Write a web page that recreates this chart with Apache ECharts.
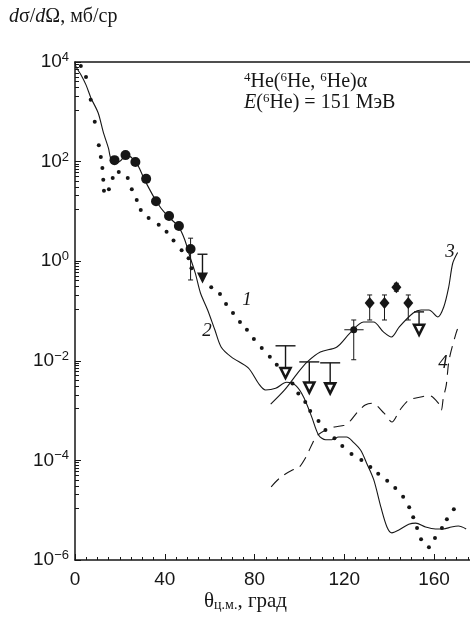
<!DOCTYPE html>
<html><head><meta charset="utf-8">
<script src="https://cdn.jsdelivr.net/npm/echarts@6/dist/echarts.min.js"></script>
<style>html,body{margin:0;padding:0;background:#fff}#c{width:470px;height:624px}</style>
</head><body><div id="c"></div>
<script>
// ---- Data ----
const xTicks = [0, 40, 80, 120, 160];
const yTickExps = [-6, -4, -2, 0, 2, 4];

// Curve 1 (dotted)
const c1Theta = [2.6,4.9,7.0,8.8,10.6,11.5,12.2,12.6,12.9,15.1,16.8,19.5,23.5,25.3,27.5,29.3,32.8,37.3,40.8,43.9,47.5,50.6,51.9,60.7,64.6,67.3,70.4,73.5,76.6,79.7,83.2,86.8,89.9,93.4,96.9,99.5,102.6,104.8,108.5,111.6,115.6,119.1,123.2,127.6,131.6,135.1,139.1,142.7,146.2,148.9,150.7,152.4,154.2,157.7,160.4,163.5,165.7,168.8];
const c1Val = [8300,5000,1740,630,214,123,74,43,26,28,47,62,47,28,17,10.7,7.4,5.4,3.9,2.6,1.66,1.15,0.72,0.30,0.22,0.138,0.091,0.060,0.042,0.0275,0.018,0.012,8.3e-3,5.5e-3,3.5e-3,2.2e-3,1.48e-3,9.8e-4,6.2e-4,4.1e-4,2.8e-4,1.95e-4,1.35e-4,1.02e-4,7.4e-5,5.4e-5,3.9e-5,2.8e-5,1.86e-5,1.15e-5,7.2e-6,4.4e-6,2.6e-6,1.8e-6,2.75e-6,4.4e-6,6.6e-6,1.05e-5];

// Curve 2 (solid)
const c2Theta = [0,0.5,2.7,4.9,7.1,10.3,12.6,14.9,16.3,19.4,22.9,27.4,31.0,36.4,40.8,46.2,48.9,51.3,53.6,55.9,59.1,62.3,65.1,69.6,77.2,81.8,84.9,89.4,94.3,98.3,101.9,105.5,108.6,111.7,114.4,117.5,121.0,124.1,127.3,129.9,133.1,136.3,139.0,141.2,144.3,148.7,151.8,156.2,160.6,164.1,167.7,170.8,174.3];
const c2Val = [1e4,7900,5500,3470,1900,955,390,186,107,98,135,93,43,15.5,8.5,4.9,2.7,1.2,0.575,0.23,0.105,0.042,0.019,0.012,7.2e-3,3.5e-3,2.6e-3,2.8e-3,3.7e-3,3.2e-3,1.86e-3,7.4e-4,3.2e-4,2.6e-4,2.6e-4,2.95e-4,2.95e-4,2.3e-4,1.6e-4,8.9e-5,4.1e-5,1.15e-5,4.6e-6,3.5e-6,4.0e-6,5.2e-6,5.5e-6,4.6e-6,4.2e-6,4.2e-6,4.6e-6,4.8e-6,4.2e-6];

// Curve 3 (solid)
const c3Theta = [87.2,93.4,99.1,103.5,109.3,116.7,122.5,128.6,133.0,137.4,141.0,144.5,150.7,154.2,157.7,161.7,164.3,166.5,168.3,170.5];
const c3Val = [1.35e-3,2.6e-3,5.6e-3,9.5e-3,0.015,0.019,0.036,0.060,0.060,0.038,0.030,0.048,0.091,0.105,0.105,0.076,0.12,0.30,0.91,1.5];

// Curve 4 (dashed)
const c4Theta = [87.4,91.4,97.1,99.3,102.9,106.0,108.1,111.7,115.6,120.0,122.2,125.8,129.3,132.4,137.7,141.2,144.7,148.7,153.5,157.9,161.9,163.2,164.1,165.4,166.7,169.8,171.1];
const c4Val = [2.95e-5,4.5e-5,6.5e-5,6.8e-5,1.17e-4,2.3e-4,3.2e-4,4.1e-4,4.7e-4,5.1e-4,5.9e-4,9.3e-4,1.29e-3,1.41e-3,8.9e-4,5.9e-4,1.02e-3,1.62e-3,1.86e-3,2.0e-3,1.41e-3,1.02e-3,1.78e-3,3.2e-3,0.0105,0.036,0.052];

// Experimental points
const circTheta = [17.6,22.5,26.9,31.7,36.1,41.9,46.3,51.5];
const circVal = [107,135,98,45,16,8.1,5.1,1.76];
const triFillTheta = [56.8];
const triFillVal = [0.46];
const triOpenTheta = [93.8,104.4,113.7,153.3];
const triOpenVal = [5.7e-3,2.9e-3,2.8e-3,0.042];
const dotTheta = [124.2];
const dotVal = [0.042];
const diaTheta = [131.3,137.9,143.2,148.5];
const diaVal = [0.145,0.145,0.30,0.145];

// Error bars / upper limits
const errTheta = [51.5,56.8,93.8,104.4,113.7,124.2,131.3,137.9,143.2,148.5,153.3];
const errLow   = [0.42,0.46,5.7e-3,2.9e-3,2.8e-3,0.0105,0.066,0.066,0.25,0.066,0.042];
const errHigh  = [2.9,1.38,0.020,9.5e-3,9.1e-3,0.066,0.21,0.21,0.36,0.21,0.096];
const errKind  = ['err','limit','wide','wide','wide','err','err','err','err','err','limit'];
const xErrLow = [120.0];
const xErrHigh = [128.6];
const xErrVal = [0.042];

// ---- Chart ----
const SANS = '"Liberation Sans", Arial, sans-serif';
const SERIF = '"Liberation Serif", "Times New Roman", serif';
const INK = '#161616';
const zip = (a, b) => a.map((v, i) => [v, b[i]]);

const chart = echarts.init(document.getElementById('c'), null, {renderer: 'canvas'});

function supLabel(v) {
  const e = Math.round(Math.log10(v));
  return '{b|10}{s|' + (e < 0 ? '\u2212' + (-e) : e) + '}';
}

const capHalf = {err: 2.5, limit: 5, wide: 10};

chart.setOption({
  animation: false,
  backgroundColor: '#fff',
  grid: {left: 75, right: 0, top: 62, bottom: 64},
  xAxis: [{
    type: 'value', min: 0, max: 176, interval: 40,
    axisLine: {lineStyle: {color: INK, width: 1.5}},
    axisTick: {inside: true, length: 6, lineStyle: {color: INK}},
    minorTick: {show: true, splitNumber: 8, length: 3, lineStyle: {color: INK}},
    splitLine: {show: false},
    axisLabel: {color: INK, fontFamily: SANS, fontSize: 19, margin: 10, showMaxLabel: false,
      formatter: v => xTicks.includes(v) ? String(v) : ''}
  }, {
    type: 'value', min: 0, max: 176, position: 'top',
    axisLine: {show: true, lineStyle: {color: INK, width: 1.5}},
    axisTick: {show: false}, axisLabel: {show: false}, splitLine: {show: false}
  }],
  yAxis: {
    type: 'log', logBase: 10, min: 1e-6, max: 1e4, interval: 2,
    axisLine: {show: true, lineStyle: {color: INK, width: 1.5}},
    axisTick: {show: true, inside: true, length: 6, lineStyle: {color: INK}},
    minorTick: {show: true, splitNumber: 10, length: 4, lineStyle: {color: INK}},
    splitLine: {show: false},
    axisLabel: {
      margin: 6, formatter: v => {
        const e = Math.round(Math.log10(v));
        return yTickExps.includes(e) ? supLabel(v) : '';
      },
      rich: {
        b: {fontFamily: SANS, fontSize: 19, color: INK, lineHeight: 22},
        s: {fontFamily: SANS, fontSize: 13, color: INK, lineHeight: 13, verticalAlign: 'top'}
      }
    }
  },
  series: [
    {type: 'line', name: '2', data: zip(c2Theta, c2Val), showSymbol: false, smooth: 0.3,
      lineStyle: {color: INK, width: 1.1}, z: 2},
    {type: 'line', name: '3', data: zip(c3Theta, c3Val), showSymbol: false, smooth: 0.3,
      lineStyle: {color: INK, width: 1.1}, z: 2},
    {type: 'line', name: '4', data: zip(c4Theta, c4Val), showSymbol: false, smooth: 0.3,
      lineStyle: {color: INK, width: 1.1, type: [11, 7]}, z: 2},
    {type: 'scatter', name: '1', data: zip(c1Theta, c1Val), symbol: 'circle', symbolSize: 4,
      itemStyle: {color: INK, opacity: 1}, z: 3},
    {type: 'custom', name: 'errY', z: 4,
      data: errTheta.map((t, i) => [t, errLow[i], errHigh[i], i]),
      renderItem: (params, api) => {
        const i = api.value(3);
        const kind = errKind[i];
        const p1 = api.coord([api.value(0), api.value(1)]);
        const p2 = api.coord([api.value(0), api.value(2)]);
        const h = capHalf[kind];
        const st = {stroke: INK, lineWidth: kind === 'err' ? 1 : 1.4};
        const ch = [
          {type: 'line', shape: {x1: p1[0], y1: p1[1], x2: p2[0], y2: p2[1]}, style: st},
          {type: 'line', shape: {x1: p2[0] - h, y1: p2[1], x2: p2[0] + h, y2: p2[1]}, style: st}
        ];
        if (kind === 'err') ch.push({type: 'line', shape: {x1: p1[0] - h, y1: p1[1], x2: p1[0] + h, y2: p1[1]}, style: st});
        return {type: 'group', children: ch};
      }
    },
    {type: 'custom', name: 'errX', z: 4,
      data: xErrLow.map((l, i) => [l, xErrHigh[i], xErrVal[i]]),
      renderItem: (params, api) => {
        const p1 = api.coord([api.value(0), api.value(2)]);
        const p2 = api.coord([api.value(1), api.value(2)]);
        return {type: 'line', shape: {x1: p1[0], y1: p1[1], x2: p2[0], y2: p2[1]}, style: {stroke: INK, lineWidth: 1}};
      }
    },
    {type: 'scatter', data: zip(circTheta, circVal), symbol: 'circle', symbolSize: 10,
      itemStyle: {color: INK, opacity: 1}, z: 5},
    {type: 'scatter', data: zip(triFillTheta, triFillVal), symbol: 'triangle', symbolRotate: 180, symbolSize: 11,
      itemStyle: {color: INK, opacity: 1}, z: 5},
    {type: 'scatter', data: zip(triOpenTheta, triOpenVal), symbol: 'triangle', symbolRotate: 180, symbolSize: 10,
      itemStyle: {color: '#fff', borderColor: INK, borderWidth: 2.6, opacity: 1}, z: 5},
    {type: 'scatter', data: zip(dotTheta, dotVal), symbol: 'circle', symbolSize: 7,
      itemStyle: {color: INK, opacity: 1}, z: 5},
    {type: 'scatter', data: zip(diaTheta, diaVal), symbol: 'diamond', symbolSize: [10, 12],
      itemStyle: {color: INK, opacity: 1}, z: 5}
  ],
  graphic: [
    {type: 'text', left: 9, top: 7, style: {
      text: '{i|d}{t|σ/}{i|d}{t|Ω, мб/ср}',
      rich: {
        i: {fontFamily: SERIF, fontStyle: 'italic', fontSize: 20, fill: INK},
        t: {fontFamily: SERIF, fontSize: 20, fill: INK}
      }}},
    {type: 'text', left: 244, top: 71, style: {
      text: '{s|4}{t|He(}{s|6}{t|He, }{s|6}{t|He)α}\n{i|E}{t|(}{s|6}{t|He) = 151 МэВ}',
      rich: {
        t: {fontFamily: SERIF, fontSize: 20, fill: INK, lineHeight: 21},
        i: {fontFamily: SERIF, fontStyle: 'italic', fontSize: 20, fill: INK, lineHeight: 21},
        s: {fontFamily: SERIF, fontSize: 13, fill: INK, lineHeight: 10, verticalAlign: 'top'}
      }}},
    {type: 'text', left: 204, top: 591, style: {
      text: '{t|θ}{s|ц.м.}{t|, град}',
      rich: {
        t: {fontFamily: SERIF, fontSize: 21, fill: INK, lineHeight: 22},
        s: {fontFamily: SERIF, fontSize: 14, fill: INK, lineHeight: 13, verticalAlign: 'bottom'}
      }}},
    {type: 'text', x: 247, y: 300, style: {text: '1', font: 'italic 19px ' + SERIF, fill: INK, align: 'center', verticalAlign: 'middle'}},
    {type: 'text', x: 207, y: 331, style: {text: '2', font: 'italic 19px ' + SERIF, fill: INK, align: 'center', verticalAlign: 'middle'}},
    {type: 'text', x: 450, y: 252, style: {text: '3', font: 'italic 19px ' + SERIF, fill: INK, align: 'center', verticalAlign: 'middle'}},
    {type: 'text', x: 443, y: 363, style: {text: '4', font: 'italic 19px ' + SERIF, fill: INK, align: 'center', verticalAlign: 'middle'}}
  ]
});
</script>
</body></html>
